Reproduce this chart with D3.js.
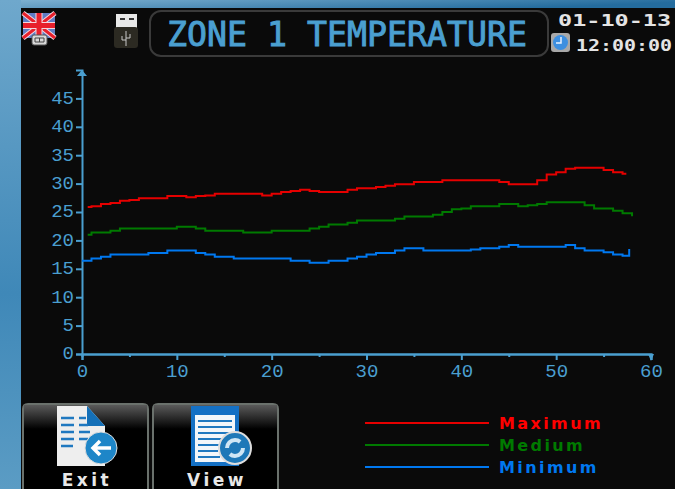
<!DOCTYPE html>
<html>
<head>
<meta charset="utf-8">
<script src="https://cdn.jsdelivr.net/npm/d3@7"></script>
<style>
  html, body { margin: 0; padding: 0; background: #0a0a0a; }
  svg { display: block; }
  text { font-family: "DejaVu Sans Mono", monospace; }
</style>
</head>
<body>
<svg id="chart" width="675" height="489"></svg>
<script>
const titleText = "ZONE 1 TEMPERATURE";
const dateText = "01-10-13";
const timeText = "12:00:00";
const buttonLabels = ["Exit", "View"];
const seriesNames = ["Maximum", "Medium", "Minimum"];
const seriesColors = ["#e60000", "#007a00", "#0078f0"];
const xMajorTicks = [0, 10, 20, 30, 40, 50, 60];
const xMinorTicks = [5, 15, 25, 35, 45, 55];
const yTicks = [0, 5, 10, 15, 20, 25, 30, 35, 40, 45];

const samples = [1, 2, 3, 4, 5, 6, 7, 8, 9, 10, 11, 12, 13, 14, 15, 16, 17, 18, 19, 20,
  21, 22, 23, 24, 25, 26, 27, 28, 29, 30, 31, 32, 33, 34, 35, 36, 37, 38, 39, 40,
  41, 42, 43, 44, 45, 46, 47, 48, 49, 50, 51, 52, 53, 54, 55, 56, 57];

// each line starts and stops at a slightly different place on the x axis
const xMaximum = [0.6, ...samples, 57.4];
const xMedium = [0.6, ...samples, 58];
const xMinimum = [0, ...samples, 57.7];

const maximum = [25.9, 26.0, 26.4, 26.6, 27.0, 27.1, 27.4, 27.4, 27.4, 27.8, 27.8, 27.6, 27.8, 27.9, 28.2,
  28.2, 28.2, 28.2, 28.2, 27.9, 28.2, 28.5, 28.7, 28.9, 28.7, 28.5, 28.5, 28.5, 28.9, 29.2, 29.2,
  29.4, 29.6, 29.9, 29.9, 30.3, 30.3, 30.3, 30.6, 30.6, 30.6, 30.6, 30.6, 30.6, 30.3, 29.9, 29.9, 29.9,
  30.6, 31.6, 32.0, 32.6, 32.8, 32.8, 32.8, 32.4, 32.0, 31.75, 31.75];
const medium = [21.0, 21.4, 21.4, 21.7, 22.1, 22.1, 22.1, 22.1, 22.1, 22.1, 22.4, 22.4, 22.1, 21.7, 21.7,
  21.7, 21.7, 21.4, 21.4, 21.4, 21.7, 21.7, 21.7, 21.7, 22.1, 22.4, 22.8, 22.8, 23.1, 23.5, 23.5,
  23.5, 23.5, 23.8, 24.2, 24.2, 24.2, 24.5, 25.0, 25.5, 25.6, 26.0, 26.0, 26.0, 26.4, 26.4, 26.0, 26.2,
  26.4, 26.7, 26.7, 26.7, 26.7, 26.2, 25.6, 25.6, 25.2, 24.8, 24.25];
const minimum = [16.4, 16.8, 17.1, 17.5, 17.5, 17.5, 17.5, 17.8, 17.8, 18.2, 18.2, 18.2, 17.8, 17.5, 17.1,
  17.1, 16.8, 16.8, 16.8, 16.8, 16.8, 16.8, 16.4, 16.4, 16.05, 16.05, 16.4, 16.4, 16.8, 17.1, 17.5,
  17.8, 17.8, 18.2, 18.6, 18.6, 18.2, 18.2, 18.2, 18.2, 18.2, 18.4, 18.6, 18.6, 18.9, 19.2, 18.9, 18.9,
  18.9, 18.9, 18.9, 19.2, 18.6, 18.2, 18.2, 17.9, 17.5, 17.3, 18.5];

const blue = "#4a9fd0";
const svg = d3.select("#chart");
const defs = svg.append("defs");

const frameGrad = defs.append("linearGradient").attr("id", "frame")
  .attr("x1", "0").attr("y1", "0").attr("x2", "1").attr("y2", "0.3");
frameGrad.append("stop").attr("offset", "0").attr("stop-color", "#7fb2d2");
frameGrad.append("stop").attr("offset", "1").attr("stop-color", "#246c9e");
const sideGrad = defs.append("linearGradient").attr("id", "side")
  .attr("x1", "0").attr("y1", "0").attr("x2", "0").attr("y2", "1");
sideGrad.append("stop").attr("offset", "0").attr("stop-color", "#6fa8cc");
sideGrad.append("stop").attr("offset", "0.6").attr("stop-color", "#3f88b8");
sideGrad.append("stop").attr("offset", "1").attr("stop-color", "#5b9cc4");
const btnGrad = defs.append("linearGradient").attr("id", "btn")
  .attr("x1", "0").attr("y1", "0").attr("x2", "0").attr("y2", "1");
btnGrad.append("stop").attr("offset", "0").attr("stop-color", "#5a5a5a");
btnGrad.append("stop").attr("offset", "1").attr("stop-color", "#000");

svg.append("rect").attr("width", 675).attr("height", 8).attr("fill", "url(#frame)");
svg.append("rect").attr("width", 21).attr("height", 489).attr("fill", "url(#side)");
svg.append("rect").attr("x", 21).attr("y", 8).attr("width", 654).attr("height", 481).attr("fill", "#0a0a0a");

// header
svg.append("rect").attr("x", 150).attr("y", 11).attr("width", 398).attr("height", 45).attr("rx", 11)
  .attr("fill", "none").attr("stroke", "#3a3a3a").attr("stroke-width", 2);
svg.append("text").attr("x", 167).attr("y", 46).attr("textLength", 360).attr("lengthAdjust", "spacingAndGlyphs")
  .attr("font-size", 33).attr("fill", blue).attr("stroke", blue).attr("stroke-width", 0.9).text(titleText);
svg.append("text").attr("x", 558).attr("y", 26).attr("textLength", 113).attr("lengthAdjust", "spacingAndGlyphs")
  .attr("font-size", 16).attr("font-weight", "bold").attr("fill", "#e4e4e4").text(dateText);
svg.append("text").attr("x", 576).attr("y", 51).attr("textLength", 96).attr("lengthAdjust", "spacingAndGlyphs")
  .attr("font-size", 16).attr("font-weight", "bold").attr("fill", "#e4e4e4").text(timeText);

// flag icon
const flag = svg.append("g");
flag.append("rect").attr("x", 23).attr("y", 13).attr("width", 32).attr("height", 25).attr("fill", "#5f7cc4");
flag.append("path").attr("d", "M23 13L55 38M55 13L23 38").attr("stroke", "#f3d8e0").attr("stroke-width", 5);
flag.append("path").attr("d", "M23 13L55 38M55 13L23 38").attr("stroke", "#e8202c").attr("stroke-width", 3);
flag.append("path").attr("d", "M39 13V38M23 25.5H55").attr("stroke", "#f3d8e0").attr("stroke-width", 7);
flag.append("path").attr("d", "M39 13V38M23 25.5H55").attr("stroke", "#e8202c").attr("stroke-width", 5);
flag.append("rect").attr("x", 32).attr("y", 35).attr("width", 15).attr("height", 10).attr("rx", 2)
  .attr("fill", "#d8d8d8").attr("stroke", "#555");
flag.append("path").attr("d", "M35 38H44V42H35ZM39.5 38V42").attr("fill", "none").attr("stroke", "#444");

// usb icon
const usb = svg.append("g");
usb.append("rect").attr("x", 116).attr("y", 14).attr("width", 21).attr("height", 14).attr("fill", "#e8e8e8");
usb.append("path").attr("d", "M120 19h5M129 19h5").attr("stroke", "#333").attr("stroke-width", 2);
usb.append("rect").attr("x", 114).attr("y", 27).attr("width", 24).attr("height", 21).attr("rx", 3).attr("fill", "#2c2a22");
usb.append("path").attr("d", "M126 31V46M122 36v4h4M130 34v4h-4").attr("stroke", "#c8c8c8").attr("fill", "none");

// clock icon
svg.append("rect").attr("x", 551).attr("y", 33).attr("width", 19).attr("height", 19).attr("rx", 3).attr("fill", "#a8a8a8");
svg.append("circle").attr("cx", 560.5).attr("cy", 42.5).attr("r", 7.5).attr("fill", "#3d8fe0");
svg.append("path").attr("d", "M561 37V43H556").attr("stroke", "#e8f2ff").attr("fill", "none").attr("stroke-width", 1.5);

// chart area
const x = d3.scaleLinear().domain([0, 60]).range([82, 651]);
const y = d3.scaleLinear().domain([0, 50]).range([354, 70]);

const yAxis = svg.append("g").attr("transform", `translate(${x(0)},0)`)
  .call(d3.axisLeft(y).tickValues(yTicks).tickSize(6).tickPadding(2).tickFormat(d3.format("d")));
const xAxis = svg.append("g").attr("transform", `translate(0,${y(0)})`)
  .call(d3.axisBottom(x).tickValues(xMajorTicks).tickSize(6).tickPadding(4).tickFormat(d3.format("d")));
const xMinor = svg.append("g").attr("transform", `translate(0,${y(0)})`)
  .call(d3.axisBottom(x).tickValues(xMinorTicks).tickSize(3).tickFormat(""));

[yAxis, xAxis, xMinor].forEach(g => {
  g.selectAll("path, line").attr("stroke", blue).attr("stroke-width", 2);
  g.selectAll("text").attr("fill", blue).attr("font-size", 19)
    .style("font-family", '"Liberation Mono", monospace');
});
yAxis.selectAll("text").attr("dy", "0.26em");

// axis arrow heads
svg.append("path").attr("d", `M${x(0) - 5} ${y(50) + 6}L${x(0)} ${y(50)}L${x(0) + 5} ${y(50) + 6}Z`).attr("fill", blue);
svg.append("path").attr("d", `M${x(60) - 3} ${y(0)}L${x(60)} ${y(0) + 7}L${x(60) + 3} ${y(0)}Z`).attr("fill", blue);

// lines
const lineData = [
  { xs: xMaximum, ys: maximum },
  { xs: xMedium, ys: medium },
  { xs: xMinimum, ys: minimum }
];
const line = d3.line().x(d => x(d[0])).y(d => y(d[1])).curve(d3.curveStepAfter);
svg.append("g").selectAll("path")
  .data(lineData)
  .join("path")
  .attr("d", d => line(d.xs.map((v, i) => [v, d.ys[i]])))
  .attr("fill", "none")
  .attr("stroke", (d, i) => seriesColors[i])
  .attr("stroke-width", 2);

// legend
const legendY = d3.scalePoint().domain(seriesNames).range([423, 467]);
const legend = svg.append("g").selectAll("g").data(seriesNames).join("g")
  .attr("transform", d => `translate(0,${legendY(d)})`);
legend.append("line").attr("x1", 365).attr("x2", 489)
  .attr("stroke", (d, i) => seriesColors[i]).attr("stroke-width", 2);
legend.append("text").attr("x", 499).attr("y", 6).attr("font-size", 16).attr("font-weight", "bold")
  .style("font-family", '"DejaVu Sans", sans-serif')
  .attr("letter-spacing", 2.4).attr("fill", (d, i) => i === 0 ? "#ff0000" : seriesColors[i]).text(d => d);

// buttons
const buttonX = d3.scalePoint().domain(buttonLabels).range([22, 152]);
const button = svg.append("g").selectAll("g").data(buttonLabels).join("g")
  .attr("transform", d => `translate(${buttonX(d)},403)`);
button.append("path").attr("d", "M1 90V6Q1 1 6 1H121Q126 1 126 6V90").attr("fill", "#000").attr("stroke", "#6a716c").attr("stroke-width", 2);
button.append("rect").attr("x", 2).attr("y", 2).attr("width", 123).attr("height", 24).attr("fill", "url(#btn)");
button.append("text").attr("x", 65).attr("y", 83).attr("text-anchor", "middle").attr("font-size", 17)
  .style("font-family", '"DejaVu Sans", sans-serif')
  .attr("font-weight", "bold").attr("letter-spacing", 3.5).attr("fill", "#e8e8e8").text(d => d);

// exit icon
const exitIcon = svg.append("g");
exitIcon.append("path").attr("d", "M57 406H87L105 426V466H57Z").attr("fill", "#eeeeee");
exitIcon.append("path").attr("d", "M87 406L105 426H87Z").attr("fill", "#1470b8");
exitIcon.append("path").attr("d", "M61 418H74M79 418H86M61 425H74M79 425H88M61 432H74M79 432H90M61 439H74M79 439H88M61 446H73")
  .attr("stroke", "#1f78c0").attr("stroke-width", 2.5);
exitIcon.append("circle").attr("cx", 101).attr("cy", 448).attr("r", 16).attr("fill", "#1e86c8").attr("stroke", "#ddd");
exitIcon.append("path").attr("d", "M111 448H93M100 441L93 448L100 455").attr("stroke", "#fff").attr("stroke-width", 3.5).attr("fill", "none");

// view icon
const viewIcon = svg.append("g");
viewIcon.append("rect").attr("x", 191).attr("y", 406).attr("width", 48).attr("height", 60).attr("fill", "#1470c4");
viewIcon.append("rect").attr("x", 195).attr("y", 415).attr("width", 40).attr("height", 47).attr("fill", "#f2f6fa");
viewIcon.append("path").attr("d", "M198 421H232M198 427H232M198 433H232M198 439H228M198 445H222M198 451H218M198 457H220")
  .attr("stroke", "#1f78c0").attr("stroke-width", 2);
viewIcon.append("circle").attr("cx", 235).attr("cy", 448).attr("r", 16).attr("fill", "#1e78b8").attr("stroke", "#ddd").attr("stroke-width", 2);
viewIcon.append("circle").attr("cx", 235).attr("cy", 448).attr("r", 8).attr("fill", "none").attr("stroke", "#cfe6f5").attr("stroke-width", 4).attr("stroke-dasharray", "18 7");
</script>
</body>
</html>
